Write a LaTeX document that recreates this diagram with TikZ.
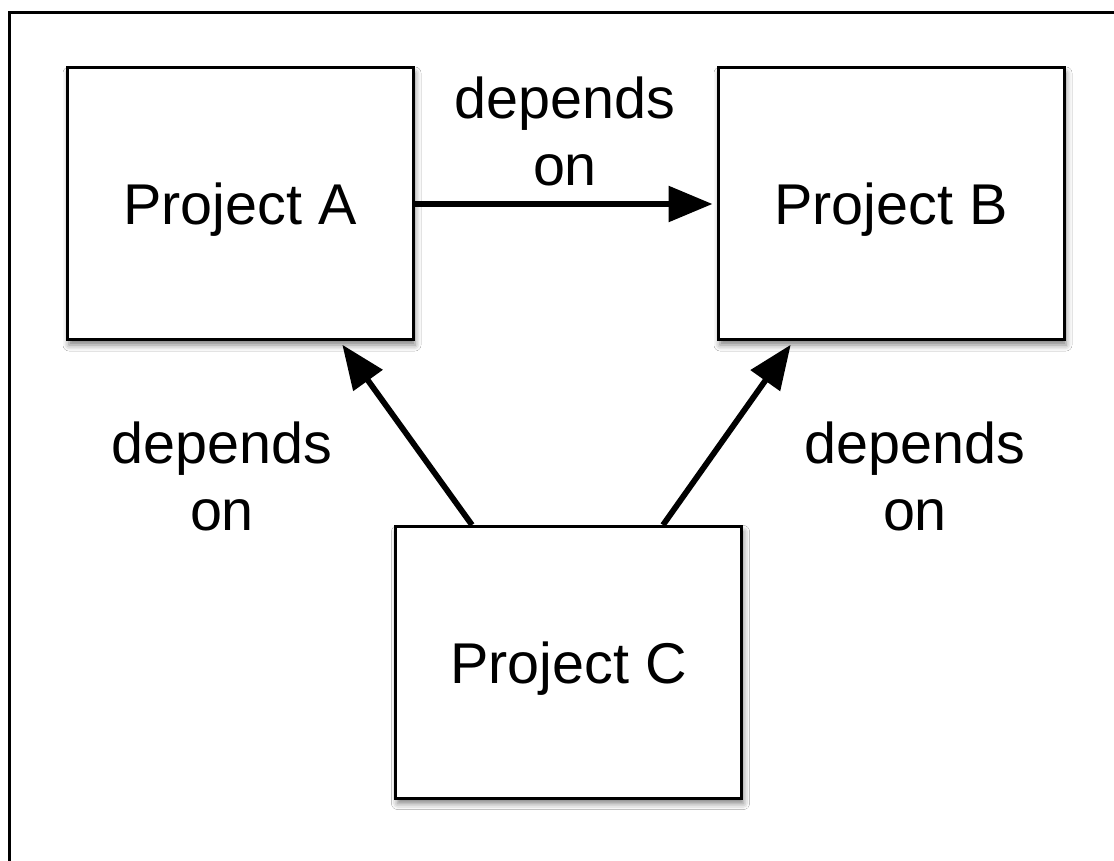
\documentclass[tikz,border=0pt]{standalone}
\usepackage{fontspec}
\setmainfont{Liberation Sans}
\usetikzlibrary{arrows.meta,shadows.blur}
\tikzset{
  projbox/.style={draw=black, fill=white, line width=1.5pt, minimum width=173pt,
    minimum height=136pt, inner sep=0pt, text depth=0pt, font=\fontsize{28.75pt}{33.5pt}\selectfont,
    blur shadow={shadow xshift=1pt, shadow yshift=-2.5pt, shadow blur radius=3pt, shadow opacity=50}},
  deplabel/.style={align=center, inner sep=0pt, font=\fontsize{28.75pt}{33.5pt}\selectfont},
  deparrow/.style={line width=2.9pt, -{Triangle[length=22pt,width=17.5pt]}, shorten >=2pt}
}
\begin{document}
\begin{tikzpicture}[x=0.5pt,y=-0.5pt]
\useasboundingbox (0,0) rectangle (1114,861);
\fill[white] (0,0) rectangle (1114,861);
\begin{scope}
\clip (0,0) rectangle (1114,861);
\draw[line width=1.8pt] (9.5,12.5) rectangle (1200,950);
\end{scope}
\node[projbox] (A) at (240,204) {Project A};
\node[projbox] (B) at (891,204) {Project B};
\node[projbox] (C) at (568.5,662.5) {Project C};
\draw[deparrow] (A.east) -- (B.west);
\draw[deparrow] ([xshift=-48.25pt]C.north) -- ([xshift=50pt]A.south);
\draw[deparrow] ([xshift=47.25pt]C.north) -- ([xshift=-49pt]B.south);
\node[deplabel] (lab1) at (565,131) {depends\\on};
\node[deplabel] (lab2) at (222,476) {depends\\on};
\node[deplabel] (lab3) at (915,476) {depends\\on};
\end{tikzpicture}
\end{document}
